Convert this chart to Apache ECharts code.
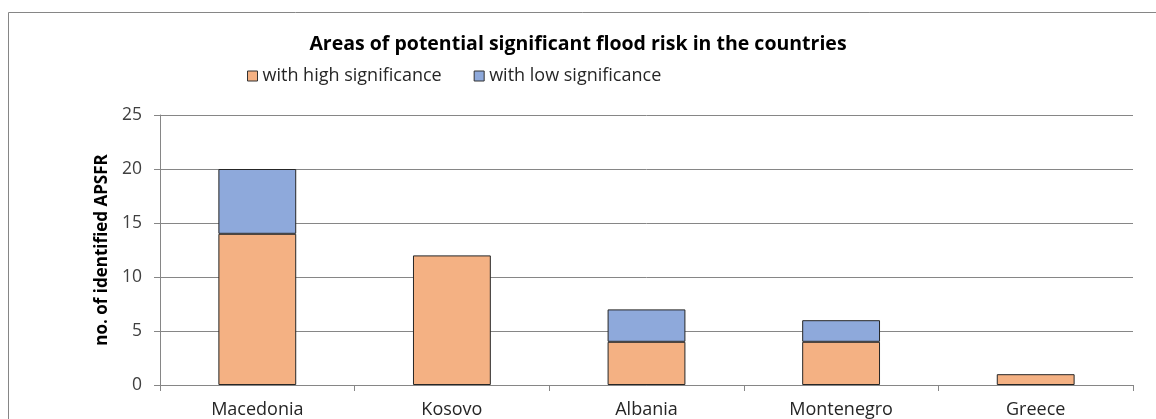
<!DOCTYPE html>
<html>
<head>
<meta charset="utf-8">
<script src="https://cdn.jsdelivr.net/npm/echarts@6/dist/echarts.min.js"></script>
<style>
  html, body { margin: 0; padding: 0; background: #fff; }
  #chart { width: 1156px; height: 419px; }
</style>
</head>
<body>
<div id="chart"></div>
<script>
// Areas of potential significant flood risk, per country
const countries = ['Macedonia', 'Kosovo', 'Albania', 'Montenegro', 'Greece'];
const highSignificance = [14, 12, 4, 4, 1];
const lowSignificance = [6, 0, 3, 2, 0];
const yTicks = { min: 0, max: 25, interval: 5 };

const FONT = 'Open Sans';
const chart = echarts.init(document.getElementById('chart'), null, { renderer: 'canvas' });

chart.setOption({
  animation: false,
  backgroundColor: '#ffffff',
  textStyle: { fontFamily: FONT },
  title: {
    text: 'Areas of potential significant flood risk in the countries',
    left: 'center',
    top: 29,
    textStyle: { fontFamily: FONT, fontWeight: 'bold', fontSize: 19.5, color: '#000000' }
  },
  legend: {
    top: 67,
    left: 247,
    padding: 0,
    itemWidth: 10,
    itemHeight: 10,
    itemGap: 32,
    icon: 'rect',
    textStyle: { fontFamily: FONT, fontSize: 18, color: '#262626' },
    data: [
      { name: 'with high significance', itemStyle: { borderColor: '#333', borderWidth: 1 } },
      { name: 'with low significance', itemStyle: { borderColor: '#333', borderWidth: 1 } }
    ]
  },
  grid: { left: 160, right: 23, top: 115, bottom: 33, containLabel: false },
  xAxis: {
    type: 'category',
    data: countries,
    axisLine: { lineStyle: { color: '#868686', width: 1 } },
    axisTick: { show: true, alignWithLabel: false, length: 6, lineStyle: { color: '#868686' } },
    axisLabel: { color: '#262626', fontSize: 18, fontFamily: FONT, margin: 16 }
  },
  yAxis: {
    type: 'value',
    min: yTicks.min,
    max: yTicks.max,
    interval: yTicks.interval,
    name: 'no. of identified APSFR',
    nameLocation: 'middle',
    nameGap: 45,
    nameTextStyle: { fontFamily: FONT, fontWeight: 'bold', fontSize: 17, color: '#000000' },
    axisLine: { show: true, lineStyle: { color: '#868686', width: 1 } },
    axisTick: { show: true, length: 6, lineStyle: { color: '#868686' } },
    axisLabel: { color: '#404040', fontSize: 17.5, fontFamily: FONT, margin: 18 },
    splitLine: { show: true, lineStyle: { color: '#868686', width: 1 } }
  },
  series: [
    {
      name: 'with high significance',
      type: 'bar',
      stack: 'total',
      data: highSignificance,
      barWidth: '40%',
      itemStyle: { color: '#F4B183', borderColor: '#262626', borderWidth: 1 }
    },
    {
      name: 'with low significance',
      type: 'bar',
      stack: 'total',
      data: lowSignificance.map(v => (v === 0 ? null : v)),
      barWidth: '40%',
      itemStyle: { color: '#8EA9DB', borderColor: '#262626', borderWidth: 1 }
    }
  ],
  graphic: [
    {
      type: 'polyline',
      silent: true,
      shape: { points: [[8.5, 440], [8.5, 12.5], [1170, 12.5]] },
      style: { stroke: '#868686', lineWidth: 1, fill: null }
    }
  ]
});
</script>
</body>
</html>
